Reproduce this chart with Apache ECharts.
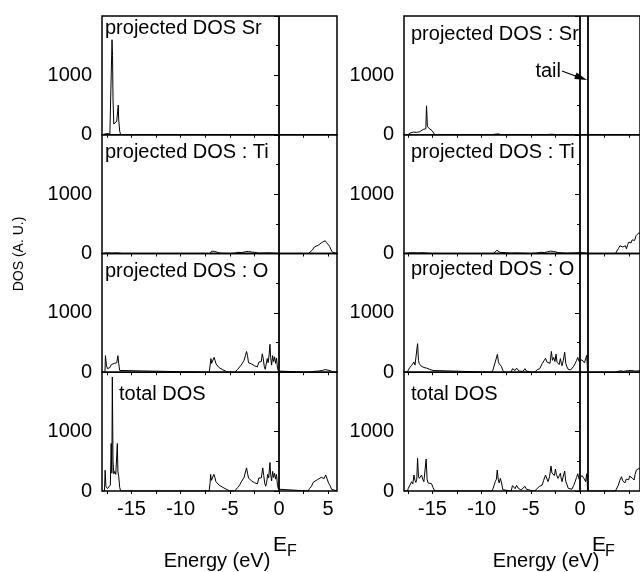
<!DOCTYPE html>
<html>
<head>
<meta charset="utf-8">
<title>projected DOS</title>
<script src="https://cdn.jsdelivr.net/npm/echarts@6/dist/echarts.min.js"></script>
<style>
  html, body { margin: 0; padding: 0; background: #fff; }
  #main { width: 640px; height: 572px; }
</style>
</head>
<body>
<div id="main"></div>
<script>
  // axis ticks
  var xLabelTicks = [-15, -10, -5, 0, 5];
  var xTickMarks = [-17.5, -15, -12.5, -10, -7.5, -5, -2.5, 0, 2.5, 5];
  var yRange = [0, 2000];

  // panel captions
  var titlesLeft = ['projected DOS Sr', 'projected DOS : Ti', 'projected DOS : O', 'total DOS'];
  var titlesRight = ['projected DOS : Sr', 'projected DOS : Ti', 'projected DOS : O', 'total DOS'];

  // Fermi level / tail lines (eV)
  var fermiLeft = [0];
  var fermiRight = [0, 0.76];

  // left column: [energy (eV), DOS]
  var leftSr = [[-18,0],[-17.8,10],[-17.5,20],[-17.2,15],[-17.05,30],[-16.98,1600],[-16.93,1340],[-16.88,600],[-16.8,180],
    [-16.7,210],[-16.6,170],[-16.5,230],[-16.42,200],[-16.35,500],[-16.3,250],[-16.2,60],[-16.1,0],[5.9,0]];

  var leftTi = [[-18,0],[-17.5,10],[-17,5],[-16.5,10],[-16,0],[-7,0],[-6.85,40],[-6.7,60],[-6.55,35],[-6.4,55],[-6.25,20],
    [-6.0,5],[-5,0],[-4.5,5],[-4.2,20],[-3.8,15],[-3.4,30],[-3.1,35],[-2.8,25],[-2.5,20],[-2.0,5],[-1.5,8],[-1,10],[-0.5,5],
    [0,0],[3.0,0],[3.2,30],[3.4,60],[3.6,110],[3.8,80],[4.0,140],[4.2,120],[4.4,190],[4.55,170],[4.7,215],[4.85,180],
    [5.0,200],[5.15,120],[5.3,60],[5.45,20],[5.6,0],[5.9,0]];

  var leftO = [[-18,0],[-17.7,0],[-17.65,280],[-17.55,120],[-17.45,60],[-17.3,90],[-17.2,80],[-17.05,130],[-16.9,110],
    [-16.75,150],[-16.6,170],[-16.5,160],[-16.38,280],[-16.3,150],[-16.2,30],[-16.1,0],[-7.1,0],[-7.0,120],[-6.92,230],
    [-6.85,150],[-6.75,180],[-6.6,250],[-6.5,200],[-6.4,140],[-6.3,130],[-6.1,80],[-5.9,60],[-5.7,40],[-5.5,20],[-5.3,10],
    [-5.15,0],[-4.5,0],[-4.4,30],[-4.2,50],[-4.0,80],[-3.85,120],[-3.7,100],[-3.55,200],[-3.45,180],[-3.3,350],[-3.2,280],
    [-3.1,160],[-2.95,190],[-2.8,140],[-2.65,150],[-2.5,110],[-2.35,130],[-2.2,90],[-2.05,170],[-1.9,200],[-1.8,180],
    [-1.7,310],[-1.6,230],[-1.5,100],[-1.4,50],[-1.3,80],[-1.2,230],[-1.1,160],[-1.0,300],[-0.92,470],[-0.85,250],
    [-0.75,120],[-0.65,280],[-0.55,180],[-0.45,260],[-0.35,150],[-0.25,240],[-0.15,60],[-0.05,20],[0,0],[3,0],[3.3,10],
    [3.6,15],[4.0,20],[4.4,30],[4.7,45],[5.0,35],[5.3,20],[5.6,0],[5.9,0]];

  var leftTotal = [[-18,0],[-17.75,0],[-17.68,350],[-17.6,80],[-17.45,40],[-17.3,60],[-17.15,100],[-17.07,800],[-17.0,300],
    [-16.95,1920],[-16.88,500],[-16.8,290],[-16.7,330],[-16.6,280],[-16.52,300],[-16.44,800],[-16.38,320],[-16.3,250],
    [-16.2,60],[-16.1,0],[-7.1,0],[-7.0,150],[-6.95,280],[-6.87,180],[-6.78,200],[-6.62,280],[-6.52,230],[-6.42,160],
    [-6.3,140],[-6.1,100],[-5.9,80],[-5.7,60],[-5.5,40],[-5.3,25],[-5.1,10],[-5.0,0],[-4.5,0],[-4.4,30],[-4.2,60],[-4.0,100],
    [-3.85,150],[-3.7,180],[-3.55,230],[-3.45,260],[-3.3,390],[-3.2,300],[-3.1,220],[-2.95,240],[-2.8,170],[-2.65,190],
    [-2.5,140],[-2.35,170],[-2.2,120],[-2.05,220],[-1.9,250],[-1.8,220],[-1.65,390],[-1.55,260],[-1.45,130],[-1.35,80],
    [-1.25,150],[-1.15,280],[-1.05,220],[-0.92,480],[-0.85,280],[-0.75,170],[-0.65,330],[-0.55,230],[-0.45,300],[-0.35,200],
    [-0.25,280],[-0.15,90],[-0.05,30],[0,0],[2.95,0],[3.1,40],[3.3,80],[3.5,150],[3.7,130],[3.9,190],[4.1,170],[4.3,230],
    [4.45,250],[4.6,210],[4.75,270],[4.9,240],[5.05,130],[5.2,90],[5.35,30],[5.5,0],[5.9,0]];

  // right column: [energy (eV), DOS]
  var rightSr = [[-17.9,0],[-17.5,0],[-17.29,28],[-17.1,20],[-16.95,45],[-16.79,56],[-16.65,40],[-16.46,73],[-16.3,50],
    [-16.12,65],[-15.95,90],[-15.78,112],[-15.68,100],[-15.61,487],[-15.52,140],[-15.44,140],[-15.3,100],[-15.2,112],
    [-15.05,70],[-14.93,56],[-14.76,0],[-9,0],[-8.6,10],[-8.3,15],[-8,0],[-3.5,0],[-3,8],[-2.5,5],[-2,0],[6.1,0]];

  var rightTi = [[-17.9,0],[-17.5,8],[-17,12],[-16.5,8],[-16,12],[-15.5,5],[-15,0],[-8.8,0],[-8.6,30],[-8.45,55],[-8.3,35],
    [-8.15,20],[-8,0],[-7,5],[-6.5,10],[-6,5],[-5,0],[-4.3,10],[-4,20],[-3.6,15],[-3.3,30],[-3,40],[-2.7,35],[-2.5,20],
    [-2.2,15],[-1.8,10],[-1.3,5],[-0.5,10],[0,15],[0.5,10],[0.76,0],[3.6,0],[3.71,20],[3.9,80],[4.05,130],[4.22,163],
    [4.35,110],[4.5,100],[4.62,130],[4.72,79],[4.85,150],[4.95,190],[5.06,218],[5.2,180],[5.3,230],[5.4,246],[5.55,220],
    [5.7,300],[5.85,280],[6.0,350],[6.1,330]];

  var rightO = [[-17.9,0],[-17.55,0],[-17.46,40],[-17.3,80],[-17.12,118],[-17.0,90],[-16.89,173],[-16.78,120],[-16.69,110],
    [-16.6,150],[-16.52,482],[-16.43,200],[-16.35,150],[-16.2,110],[-16.11,100],[-16.0,120],[-15.88,80],[-15.75,90],
    [-15.6,70],[-15.45,60],[-15.3,50],[-15.11,50],[-14.95,30],[-14.77,0],[-8.95,0],[-8.85,40],[-8.62,173],[-8.5,150],
    [-8.4,302],[-8.3,180],[-8.22,145],[-8.1,173],[-8.0,100],[-7.85,34],[-7.72,0],[-7.0,0],[-6.87,60],[-6.75,78],[-6.6,30],
    [-6.45,70],[-6.3,40],[-6.2,20],[-6.0,10],[-5.8,15],[-5.6,60],[-5.45,20],[-5.3,0],[-5.0,5],[-4.6,0],[-4.45,0],[-4.35,45],
    [-4.1,60],[-3.85,145],[-3.7,120],[-3.51,235],[-3.35,170],[-3.18,180],[-3.05,150],[-2.91,350],[-2.8,200],[-2.67,250],
    [-2.55,180],[-2.44,306],[-2.34,170],[-2.24,190],[-2.12,130],[-2.0,230],[-1.9,150],[-1.83,110],[-1.7,200],[-1.56,336],
    [-1.45,150],[-1.33,90],[-1.2,50],[-1.1,45],[-0.95,40],[-0.83,40],[-0.65,100],[-0.5,145],[-0.35,200],[-0.23,250],
    [-0.1,180],[0.05,173],[0.2,210],[0.33,230],[0.45,160],[0.57,145],[0.68,285],[0.74,120],[0.77,0],[3.6,0],[3.8,15],
    [4.1,25],[4.4,15],[4.8,25],[5.2,30],[5.6,20],[6.1,25]];

  var rightTotal = [[-17.9,0],[-17.55,0],[-17.46,45],[-17.3,100],[-17.12,157],[-17.0,120],[-16.89,269],[-16.78,180],
    [-16.69,145],[-16.6,200],[-16.52,549],[-16.43,250],[-16.35,213],[-16.2,180],[-16.11,269],[-16.0,200],[-15.88,157],
    [-15.75,180],[-15.65,538],[-15.55,200],[-15.45,135],[-15.3,110],[-15.11,125],[-14.95,60],[-14.77,0],[-8.95,0],
    [-8.85,40],[-8.62,157],[-8.5,200],[-8.42,353],[-8.32,200],[-8.22,135],[-8.1,213],[-8.0,150],[-7.85,22],[-7.72,0],
    [-7.0,0],[-6.87,90],[-6.75,100],[-6.6,40],[-6.45,95],[-6.3,50],[-6.2,25],[-6.0,15],[-5.8,20],[-5.6,78],[-5.45,30],
    [-5.3,5],[-5.0,10],[-4.6,0],[-4.45,0],[-4.35,45],[-4.1,80],[-3.85,100],[-3.7,180],[-3.51,269],[-3.35,200],[-3.25,160],
    [-3.1,240],[-2.95,420],[-2.85,300],[-2.75,325],[-2.6,260],[-2.5,370],[-2.4,280],[-2.24,213],[-2.1,260],[-2.0,300],
    [-1.9,200],[-1.83,157],[-1.7,250],[-1.56,336],[-1.45,160],[-1.33,110],[-1.2,45],[-1.0,25],[-0.83,30],[-0.65,90],
    [-0.5,157],[-0.35,230],[-0.23,291],[-0.1,200],[0.05,230],[0.2,260],[0.33,291],[0.45,200],[0.57,157],[0.68,291],
    [0.74,130],[0.77,0],[3.6,0],[3.71,30],[3.9,100],[4.05,180],[4.22,240],[4.35,170],[4.45,150],[4.56,135],[4.7,200],
    [4.82,218],[4.95,190],[5.05,250],[5.16,269],[5.3,220],[5.4,230],[5.5,185],[5.6,280],[5.73,353],[5.85,330],[6.0,380],
    [6.1,360]];

  var FONT = '"Liberation Sans", Arial, Helvetica, sans-serif';
  var myChart = echarts.init(document.getElementById('main'));

  var panelTops = [16, 134.75, 253.5, 372.25];
  var panelH = 118.75;
  var cols = [
    { left: 102, width: 235, min: -18, max: 5.9, fermi: fermiLeft,
      data: [leftSr, leftTi, leftO, leftTotal], titles: titlesLeft,
      tx: [105, 105, 105, 119], ty: [28, 152, 271, 394] },
    { left: 404, width: 238, min: -17.9, max: 6.1, fermi: fermiRight,
      data: [rightSr, rightTi, rightO, rightTotal], titles: titlesRight,
      tx: [411, 411, 411, 411], ty: [34, 152, 269, 394] }
  ];

  var grid = [], xAxis = [], yAxis = [], series = [], graphic = [];
  cols.forEach(function (c) {
    for (var r = 0; r < 4; r++) {
      var i = grid.length;
      grid.push({
        left: c.left, top: panelTops[r], width: c.width, height: panelH,
        show: true, borderColor: '#000', borderWidth: 1.5, backgroundColor: 'transparent'
      });
      xAxis.push({
        gridIndex: i, type: 'value', min: c.min, max: c.max,
        axisLine: { show: false },
        axisTick: { show: true, length: 3, customValues: xTickMarks, lineStyle: { color: '#000', width: 1 } },
        axisLabel: { show: r === 3, customValues: xLabelTicks, margin: 8, color: '#000', fontSize: 20, fontFamily: FONT,
          formatter: function (v) { return String(v); } },
        splitLine: { show: false }
      });
      yAxis.push({
        gridIndex: i, type: 'value', min: yRange[0], max: yRange[1], interval: 1000,
        axisLine: { show: false },
        axisTick: { show: true, length: 5, lineStyle: { color: '#000', width: 1 } },
        minorTick: { show: true, splitNumber: 2, length: 3, lineStyle: { color: '#000', width: 1 } },
        axisLabel: { showMaxLabel: false, margin: 10, color: '#000', fontSize: 20, fontFamily: FONT,
          formatter: function (v) { return String(v); } },
        splitLine: { show: false }
      });
      series.push({
        type: 'line', xAxisIndex: i, yAxisIndex: i, data: c.data[r],
        showSymbol: false, symbol: 'none', silent: true, animation: false,
        lineStyle: { color: '#000', width: 1 },
        markLine: {
          symbol: 'none', silent: true, animation: false,
          label: { show: false },
          lineStyle: { color: '#000', width: 1.8, type: 'solid' },
          data: c.fermi.map(function (v) { return { xAxis: v }; })
        }
      });
      graphic.push({
        type: 'text', x: c.tx[r], y: c.ty[r],
        style: { text: c.titles[r], font: '20px ' + FONT, fill: '#000', textAlign: 'left', textVerticalAlign: 'middle' }
      });
    }
  });

  // axis names
  graphic.push({
    type: 'text', x: 19, y: 254, rotation: Math.PI / 2,
    style: { text: 'DOS (A. U.)', font: '14px ' + FONT, fill: '#000', textAlign: 'center', textVerticalAlign: 'middle' }
  });
  [[217, 280, 292], [546, 599, 610]].forEach(function (p) {
    graphic.push({ type: 'text', x: p[0], y: 561,
      style: { text: 'Energy (eV)', font: '20px ' + FONT, fill: '#000', textAlign: 'center', textVerticalAlign: 'middle' } });
    graphic.push({ type: 'text', x: p[1], y: 545,
      style: { text: 'E', font: '21px ' + FONT, fill: '#000', textAlign: 'center', textVerticalAlign: 'middle' } });
    graphic.push({ type: 'text', x: p[2], y: 552,
      style: { text: 'F', font: '16px ' + FONT, fill: '#000', textAlign: 'center', textVerticalAlign: 'middle' } });
  });

  // "tail" annotation
  graphic.push({ type: 'text', x: 561, y: 71,
    style: { text: 'tail', font: '20px ' + FONT, fill: '#000', textAlign: 'right', textVerticalAlign: 'middle' } });
  graphic.push({ type: 'line', shape: { x1: 562, y1: 71, x2: 578, y2: 77 }, style: { stroke: '#000', lineWidth: 1.2 } });
  graphic.push({ type: 'polygon', shape: { points: [[587, 80], [574.2, 79.1], [576.6, 72.5]] }, style: { fill: '#000' } });

  var option = {
    backgroundColor: '#fff',
    animation: false,
    grid: grid,
    xAxis: xAxis,
    yAxis: yAxis,
    series: series,
    graphic: graphic
  };
  myChart.setOption(option);
</script>
</body>
</html>
